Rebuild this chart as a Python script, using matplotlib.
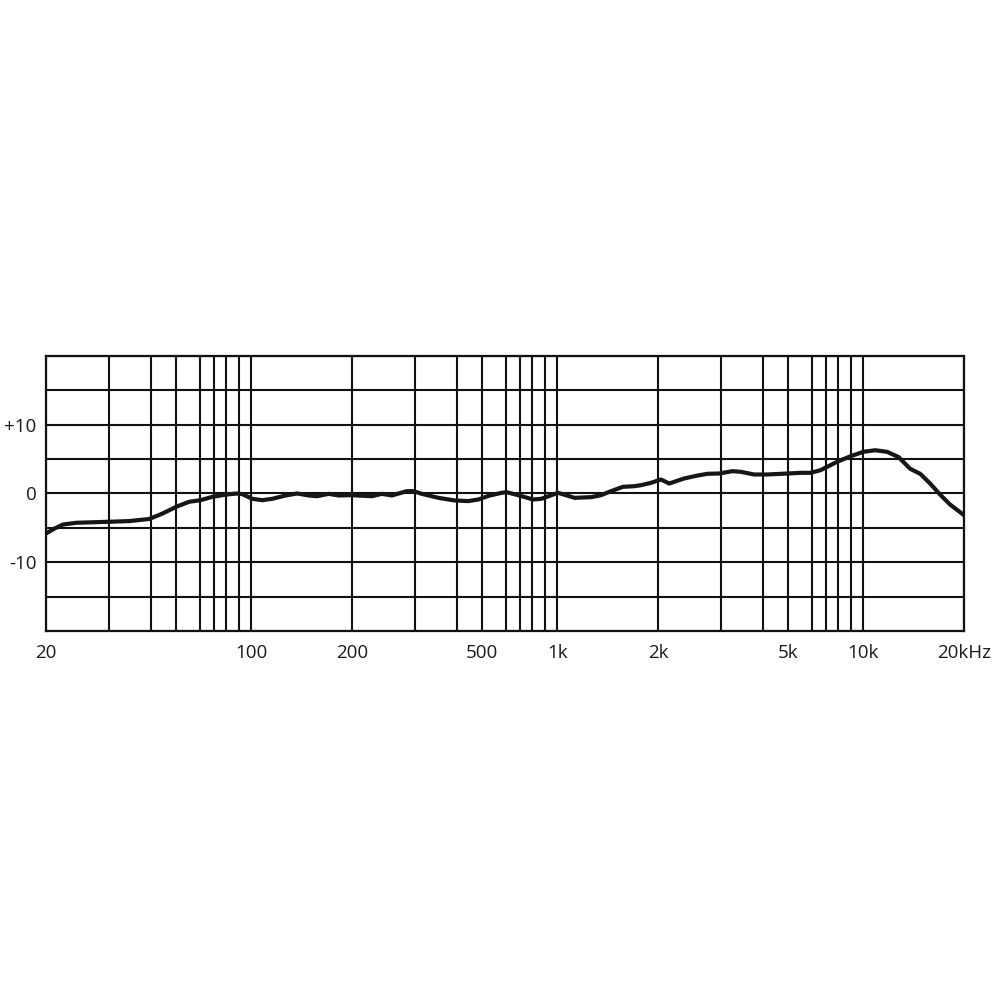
import numpy as np
import matplotlib
matplotlib.use("Agg")
import matplotlib.pyplot as plt

plt.rcParams['font.family'] = ['Open Sans', 'DejaVu Sans']

# frequency response (Hz, dB)
freq = [20, 21.1, 22.3, 24.3, 30, 34.5, 39.6, 44.4, 50, 55.1, 60, 68.7, 79.7,
        88.9, 92.8, 100.7, 107.8, 115.5, 126.6, 137.1, 148.6, 157.3, 170.4,
        182.6, 197.7, 227.3, 242.2, 258.2, 284.1, 296.6, 313.9, 352.4, 395.4,
        442.9, 483, 523.2, 578, 600, 684.4, 805, 872, 1005, 1126, 1263, 1352,
        1448, 1570, 1700, 1780, 1906, 2039, 2149, 2365, 2577, 2747, 2959, 3242,
        3434, 3766, 4168, 4957, 5484, 5911, 6566, 7889, 8995, 10000, 10850,
        11770, 12740, 13810, 14790, 15840, 16960, 18170, 19460, 20000]
level = [-5.8, -5.1, -4.5, -4.25, -4.1, -4.0, -3.7, -2.9, -1.93, -1.2, -0.97,
         -0.48, -0.15, 0.0, -0.1, -0.77, -0.97, -0.77, -0.29, 0.0, -0.29, -0.39,
         -0.05, -0.29, -0.24, -0.39, -0.05, -0.29, 0.34, 0.34, -0.05, -0.63,
         -1.02, -1.1, -0.87, -0.35, 0.1, 0.19, -0.24, -0.87, -0.77, 0.1, -0.63,
         -0.53, -0.24, 0.34, 0.97, 1.06, 1.21, 1.55, 2.03, 1.45, 2.18, 2.61,
         2.86, 2.9, 3.24, 3.15, 2.76, 2.76, 2.9, 3.0, 3.0, 3.38, 4.6, 5.41,
         6.05, 6.28, 6.05, 5.3, 3.58, 2.86, 1.45, -0.15, -1.6, -2.7, -3.15]

x_major = [20, 100, 200, 500, 1000, 2000, 5000, 10000, 20000]
x_labels = ['20', '100', '200', '500', '1k', '2k', '5k', '10k', '20kHz']
x_minor = [30, 40, 50, 60, 70, 80, 90, 300, 400, 600, 700, 800, 900,
           3000, 4000, 6000, 7000, 8000, 9000]
y_major = [-10, 0, 10]
y_labels = ['-10', '0', '+10']
y_minor = [-20, -15, -5, 5, 15, 20]

# the printed chart spaces the lines 1..10 inside a decade like this
LOGK = np.log10(np.arange(1, 11))
FRAC = np.array([0, 101, 164.5, 206, 231.7, 256, 269.7, 282, 294.3, 307]) / 307.0


def fwd(f):
    lg = np.log10(np.clip(np.asarray(f, float), 1e-9, None))
    d = np.floor(lg)
    return d + np.interp(lg - d, LOGK, FRAC)


def inv(u):
    u = np.asarray(u, float)
    d = np.floor(u)
    return 10 ** (d + np.interp(u - d, FRAC, LOGK))


fig = plt.figure(figsize=(10, 10), dpi=100)
ax = fig.add_axes([0.046, 0.3687, 0.918, 0.2756])
ax.set_xscale('function', functions=(fwd, inv))
ax.set_xlim(20, 20000)
ax.set_ylim(-20, 20)

ax.plot(freq, level, color='#161616', lw=3.0, solid_capstyle='round',
        solid_joinstyle='round', zorder=3)

ax.set_xticks(x_major)
ax.set_xticklabels(x_labels)
ax.set_xticks(x_minor, minor=True)
ax.set_yticks(y_major)
ax.set_yticklabels(y_labels)
ax.set_yticks(y_minor, minor=True)

ax.grid(which='both', color='#111111', lw=1.5)
ax.tick_params(which='both', length=0, labelsize=13.5, colors='#1a1a1a')
ax.tick_params(axis='x', pad=9)
ax.tick_params(axis='y', pad=7)
for s in ax.spines.values():
    s.set_linewidth(1.6)
    s.set_color('#111111')

plt.savefig('out.png', dpi=100, facecolor='white')
